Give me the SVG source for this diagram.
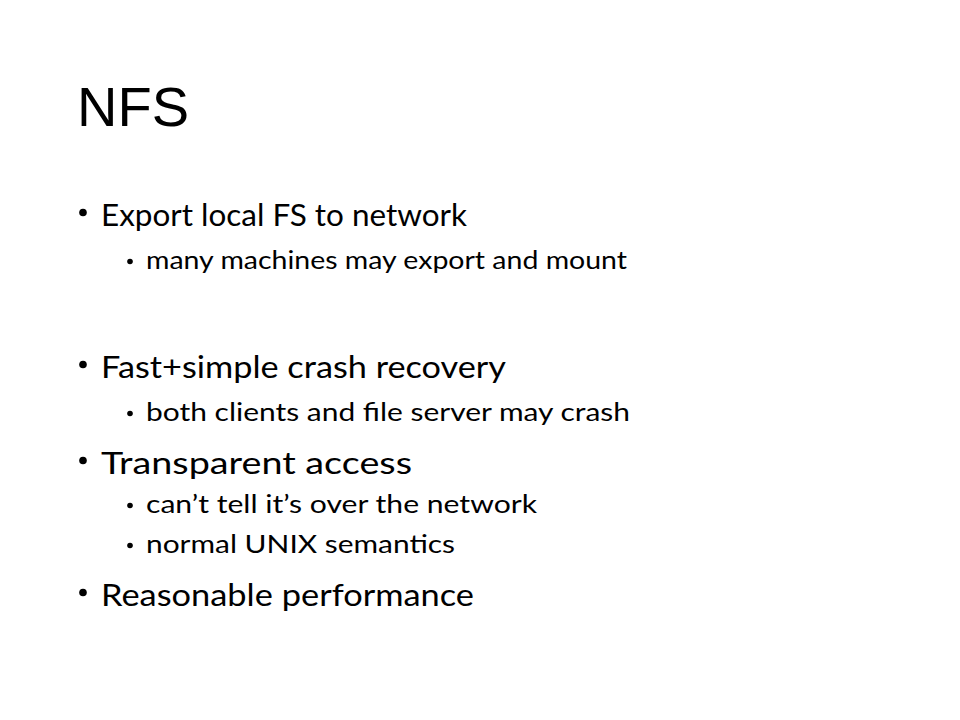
<svg xmlns="http://www.w3.org/2000/svg" width="960" height="720" viewBox="0 0 960 720" xml:space="preserve">
<style>
.t{font-family:"Liberation Sans",Arial,sans-serif;font-size:56px;fill:#000}
.b1{font-family:Lato,"Open Sans",sans-serif;font-size:31px;fill:#000}
.b2{font-family:Lato,"Open Sans",sans-serif;font-size:25px;fill:#000}
</style>
<rect width="960" height="720" fill="#fff"/>
<g id="title"><text class="t" x="77" y="126">NFS</text></g>
<g id="bullets" fill="#000">
<circle cx="83" cy="212.5" r="3.8"/>
<circle cx="83" cy="364.5" r="3.8"/>
<circle cx="83" cy="460.5" r="3.8"/>
<circle cx="83" cy="592.5" r="3.8"/>
<circle cx="130" cy="261.5" r="2.8"/>
<circle cx="130" cy="413.5" r="2.8"/>
<circle cx="130" cy="505.5" r="2.8"/>
<circle cx="130" cy="545.5" r="2.8"/>
</g>
<g id="text">
<text class="b1" x="101" y="226" textLength="366" lengthAdjust="spacingAndGlyphs">Export local FS to network</text>
<text class="b2" x="146" y="269" textLength="481" lengthAdjust="spacingAndGlyphs">many machines may export and mount</text>
<text class="b1" x="101" y="378" textLength="405" lengthAdjust="spacingAndGlyphs">Fast+simple  crash recovery</text>
<text class="b2" x="146" y="421" textLength="484" lengthAdjust="spacingAndGlyphs">both clients and file server may crash</text>
<text class="b1" x="101" y="474" textLength="311" lengthAdjust="spacingAndGlyphs">Transparent  access</text>
<text class="b2" x="146" y="513" textLength="391" lengthAdjust="spacingAndGlyphs">can’t tell it’s over the network</text>
<text class="b2" x="146" y="553" textLength="309" lengthAdjust="spacingAndGlyphs">normal UNIX semantics</text>
<text class="b1" x="101" y="606" textLength="373" lengthAdjust="spacingAndGlyphs">Reasonable  performance</text>
</g>
</svg>
